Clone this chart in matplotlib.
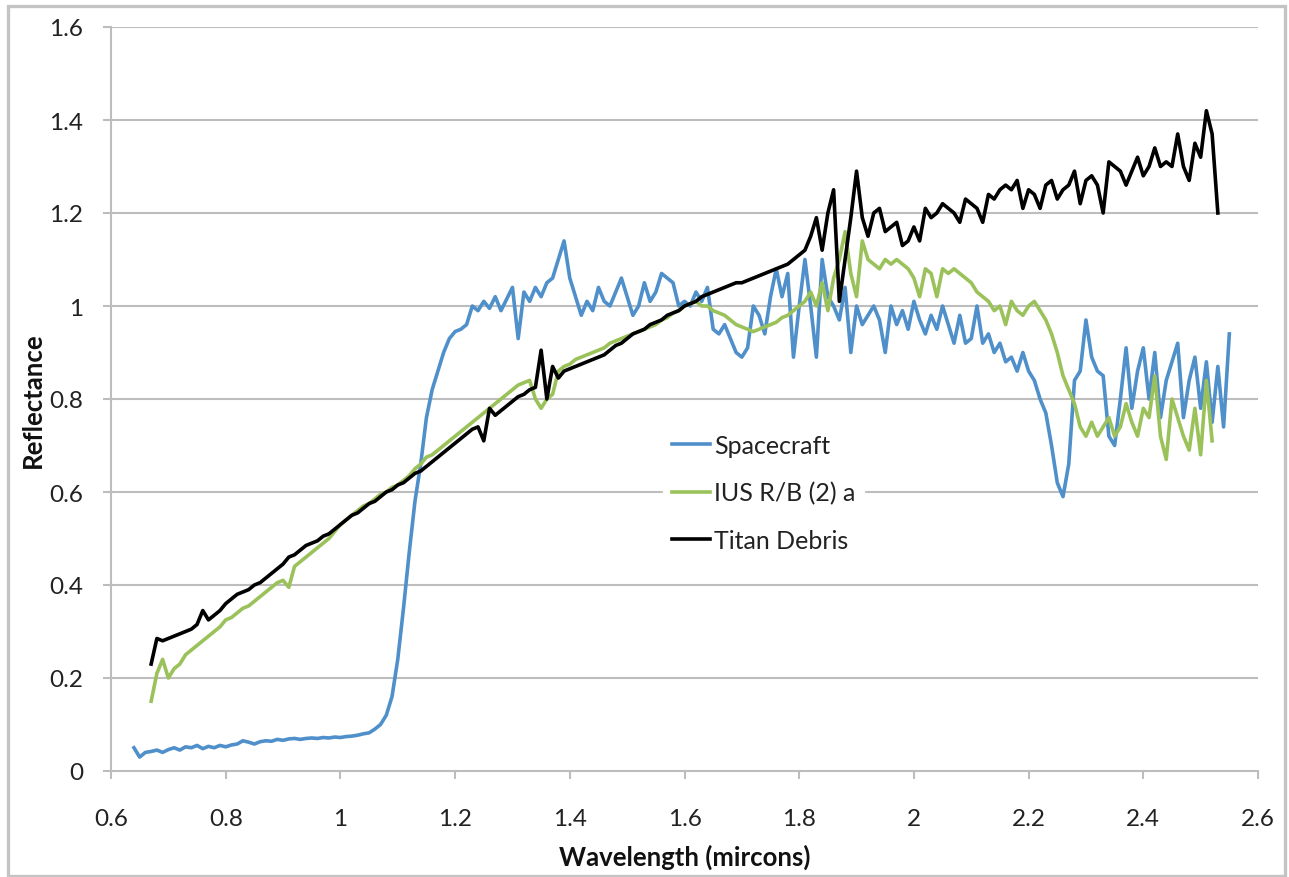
import numpy as np
import matplotlib
matplotlib.use("Agg")
import matplotlib.pyplot as plt
from matplotlib.patches import Rectangle
from matplotlib.ticker import FuncFormatter

plt.rcParams['font.family'] = ['Lato', 'DejaVu Sans']

spacecraft_start = 0.64
spacecraft = [
    0.05, 0.03, 0.04, 0.042, 0.045, 0.04, 0.046, 0.05, 0.045, 0.052,          # 0.64-0.73
    0.05, 0.055, 0.048, 0.053, 0.05, 0.055, 0.052, 0.056, 0.058, 0.065,       # 0.74-0.83
    0.062, 0.058, 0.063, 0.065, 0.064, 0.068, 0.066, 0.069, 0.07, 0.068,      # 0.84-0.93
    0.07, 0.071, 0.07, 0.072, 0.071, 0.073, 0.072, 0.074, 0.075, 0.077,       # 0.94-1.03
    0.08, 0.082, 0.09, 0.10, 0.12, 0.16, 0.24, 0.35, 0.47, 0.58,              # 1.04-1.13
    0.66, 0.76, 0.82, 0.86, 0.90, 0.93, 0.945, 0.95, 0.96, 1.0,               # 1.14-1.23
    0.99, 1.01, 0.995, 1.02, 0.99, 1.015, 1.04, 0.93, 1.03, 1.01,             # 1.24-1.33
    1.04, 1.02, 1.05, 1.06, 1.10, 1.14, 1.06, 1.02, 0.98, 1.01,               # 1.34-1.43
    0.99, 1.04, 1.01, 1.0, 1.03, 1.06, 1.02, 0.98, 1.0, 1.05,                 # 1.44-1.53
    1.01, 1.03, 1.07, 1.06, 1.05, 1.0, 1.01, 1.0, 1.03, 1.01,                 # 1.54-1.63
    1.04, 0.95, 0.94, 0.96, 0.93, 0.90, 0.89, 0.91, 1.0, 0.98,                # 1.64-1.73
    0.94, 1.02, 1.08, 1.02, 1.07, 0.89, 1.0, 1.10, 1.0, 0.89,                 # 1.74-1.83
    1.10, 1.02, 1.0, 0.97, 1.04, 0.90, 1.0, 0.96, 0.98, 1.0,                  # 1.84-1.93
    0.97, 0.90, 1.0, 0.96, 0.99, 0.95, 1.01, 0.97, 0.94, 0.98,                # 1.94-2.03
    0.95, 1.0, 0.96, 0.92, 0.98, 0.92, 0.93, 1.0, 0.92, 0.94,                 # 2.04-2.13
    0.90, 0.92, 0.88, 0.89, 0.86, 0.90, 0.86, 0.84, 0.80, 0.77,               # 2.14-2.23
    0.70, 0.62, 0.59, 0.66, 0.84, 0.86, 0.97, 0.89, 0.86, 0.85,               # 2.24-2.33
    0.72, 0.70, 0.80, 0.91, 0.78, 0.86, 0.91, 0.80, 0.90, 0.76,               # 2.34-2.43
    0.84, 0.88, 0.92, 0.76, 0.84, 0.89, 0.78, 0.88, 0.75, 0.87,               # 2.44-2.53
    0.74, 0.94,                                                               # 2.54-2.55
]

ius_start = 0.67
ius = [
    0.15, 0.21, 0.24, 0.20, 0.22, 0.23, 0.25, 0.26, 0.27, 0.28,               # 0.67-0.76
    0.29, 0.30, 0.31, 0.325, 0.33, 0.34, 0.35, 0.355, 0.365, 0.375,           # 0.77-0.86
    0.385, 0.395, 0.405, 0.41, 0.395, 0.44, 0.45, 0.46, 0.47, 0.48,           # 0.87-0.96
    0.49, 0.50, 0.515, 0.53, 0.54, 0.55, 0.56, 0.57, 0.575, 0.585,            # 0.97-1.06
    0.595, 0.60, 0.61, 0.615, 0.625, 0.635, 0.65, 0.66, 0.675, 0.68,         # 1.07-1.16
    0.69, 0.70, 0.71, 0.72, 0.73, 0.74, 0.75, 0.76, 0.77, 0.78,               # 1.17-1.26
    0.79, 0.80, 0.81, 0.82, 0.83, 0.835, 0.84, 0.80, 0.78, 0.80,              # 1.27-1.36
    0.81, 0.86, 0.87, 0.875, 0.885, 0.89, 0.895, 0.90, 0.905, 0.91,           # 1.37-1.46
    0.92, 0.925, 0.93, 0.935, 0.94, 0.945, 0.95, 0.955, 0.96, 0.97,           # 1.47-1.56
    0.975, 0.985, 0.99, 1.0, 1.005, 1.01, 1.0, 1.0, 0.99, 0.985,              # 1.57-1.66
    0.98, 0.97, 0.96, 0.955, 0.95, 0.945, 0.95, 0.955, 0.96, 0.965,           # 1.67-1.76
    0.975, 0.98, 0.99, 1.0, 1.01, 1.03, 1.0, 1.05, 0.99, 1.06,                # 1.77-1.86
    1.10, 1.16, 1.07, 1.02, 1.14, 1.10, 1.09, 1.08, 1.10, 1.09,               # 1.87-1.96
    1.10, 1.09, 1.08, 1.06, 1.02, 1.08, 1.07, 1.02, 1.08, 1.07,               # 1.97-2.06
    1.08, 1.07, 1.06, 1.05, 1.03, 1.02, 1.01, 0.99, 1.0, 0.96,                # 2.07-2.16
    1.01, 0.99, 0.98, 1.0, 1.01, 0.99, 0.97, 0.94, 0.90, 0.85,                # 2.17-2.26
    0.82, 0.79, 0.74, 0.72, 0.75, 0.72, 0.74, 0.76, 0.72, 0.74,               # 2.27-2.36
    0.79, 0.75, 0.72, 0.78, 0.76, 0.85, 0.72, 0.67, 0.80, 0.76,               # 2.37-2.46
    0.72, 0.69, 0.78, 0.68, 0.84, 0.71,                                       # 2.47-2.52
]

titan_start = 0.67
titan = [
    0.23, 0.285, 0.28, 0.285, 0.29, 0.295, 0.30, 0.305, 0.315, 0.345,         # 0.67-0.76
    0.325, 0.335, 0.345, 0.36, 0.37, 0.38, 0.385, 0.39, 0.40, 0.405,          # 0.77-0.86
    0.415, 0.425, 0.435, 0.445, 0.46, 0.465, 0.475, 0.485, 0.49, 0.495,       # 0.87-0.96
    0.505, 0.51, 0.52, 0.53, 0.54, 0.55, 0.555, 0.565, 0.575, 0.58,           # 0.97-1.06
    0.59, 0.60, 0.605, 0.615, 0.62, 0.63, 0.64, 0.645, 0.655, 0.665,          # 1.07-1.16
    0.675, 0.685, 0.695, 0.705, 0.715, 0.725, 0.735, 0.74, 0.71, 0.78,        # 1.17-1.26
    0.765, 0.775, 0.785, 0.795, 0.805, 0.81, 0.82, 0.825, 0.905, 0.80,        # 1.27-1.36
    0.87, 0.845, 0.86, 0.865, 0.87, 0.875, 0.88, 0.885, 0.89, 0.895,          # 1.37-1.46
    0.905, 0.915, 0.92, 0.93, 0.94, 0.945, 0.95, 0.96, 0.965, 0.97,           # 1.47-1.56
    0.98, 0.985, 0.99, 1.0, 1.005, 1.01, 1.02, 1.025, 1.03, 1.035,            # 1.57-1.66
    1.04, 1.045, 1.05, 1.05, 1.055, 1.06, 1.065, 1.07, 1.075, 1.08,           # 1.67-1.76
    1.085, 1.09, 1.10, 1.11, 1.12, 1.15, 1.19, 1.12, 1.20, 1.25,              # 1.77-1.86
    1.01, 1.10, 1.19, 1.29, 1.19, 1.15, 1.20, 1.21, 1.16, 1.17,               # 1.87-1.96
    1.18, 1.13, 1.14, 1.17, 1.14, 1.21, 1.19, 1.20, 1.22, 1.21,               # 1.97-2.06
    1.20, 1.18, 1.23, 1.22, 1.21, 1.18, 1.24, 1.23, 1.25, 1.26,               # 2.07-2.16
    1.25, 1.27, 1.21, 1.25, 1.24, 1.21, 1.26, 1.27, 1.23, 1.25,               # 2.17-2.26
    1.26, 1.29, 1.22, 1.27, 1.28, 1.26, 1.20, 1.31, 1.30, 1.29,               # 2.27-2.36
    1.26, 1.29, 1.32, 1.28, 1.30, 1.34, 1.30, 1.31, 1.30, 1.37,               # 2.37-2.46
    1.30, 1.27, 1.35, 1.32, 1.42, 1.37, 1.20,                                 # 2.47-2.53
]

series_names = ["Spacecraft", "IUS R/B (2) a", "Titan Debris"]
series_colors = ["#4f8fca", "#9bc25a", "#000000"]
x_ticks = [0.6, 0.8, 1.0, 1.2, 1.4, 1.6, 1.8, 2.0, 2.2, 2.4, 2.6]
y_ticks = [0, 0.2, 0.4, 0.6, 0.8, 1.0, 1.2, 1.4, 1.6]


def wl(start, vals):
    return np.round(start + 0.01 * np.arange(len(vals)), 3)


W, H, DPI = 1289, 878, 100
fig = plt.figure(figsize=(W / DPI, H / DPI), dpi=DPI)
fig.patch.set_facecolor("white")

# outer chart frame
fig.patches.append(Rectangle((8 / W, 1 / H), (1285 - 8) / W, (871 - 1) / H,
                             transform=fig.transFigure, fill=False,
                             edgecolor="#c4c4c4", linewidth=2.4))

ax = fig.add_axes([111 / W, 1 - 772 / H, (1258 - 111) / W, (772 - 28) / H])

grid_c = "#bdbdbd"
for v in y_ticks[1:]:
    ax.axhline(v, color=grid_c, lw=1.5, zorder=0)

data = [(spacecraft_start, spacecraft), (ius_start, ius), (titan_start, titan)]
for (s, vals), name, col in zip(data, series_names, series_colors):
    ax.plot(wl(s, vals), vals, color=col, lw=2.6, label=name,
            solid_joinstyle="round")

ax.set_xlim(0.6, 2.6)
ax.set_ylim(0, 1.6)
ax.set_xticks(x_ticks)
ax.set_yticks(y_ticks)
fmt = FuncFormatter(lambda v, p: f"{v:g}")
ax.xaxis.set_major_formatter(fmt)
ax.yaxis.set_major_formatter(fmt)

for sp in ["top", "right"]:
    ax.spines[sp].set_visible(False)
for sp in ["left", "bottom"]:
    ax.spines[sp].set_color(grid_c)
    ax.spines[sp].set_linewidth(1.5)

ax.tick_params(axis="both", colors=grid_c, length=6, width=1.5,
               direction="out", labelcolor="#222222", labelsize=17.5)
ax.tick_params(axis="x", pad=21)
ax.tick_params(axis="y", pad=14)

ax.set_xlabel("Wavelength (mircons)", fontsize=18.5, fontweight="bold",
              color="#111111", labelpad=10)
ax.set_ylabel("Reflectance", fontsize=18.5, fontweight="bold",
              color="#111111", labelpad=3)

fs_leg = 18
em = fs_leg * DPI / 72
leg = ax.legend(loc="upper left",
                bbox_to_anchor=((663 - 111) / 1147, (772 - 426) / 744),
                borderaxespad=0, frameon=True, fancybox=False, fontsize=fs_leg,
                handlelength=38 / em, handletextpad=4 / em, labelspacing=0.97,
                borderpad=0.35)
leg.get_frame().set_facecolor("white")
leg.get_frame().set_edgecolor("white")
leg.get_frame().set_alpha(1)
for t in leg.get_texts():
    t.set_color("#222222")

fig.savefig("out.png", dpi=DPI)
